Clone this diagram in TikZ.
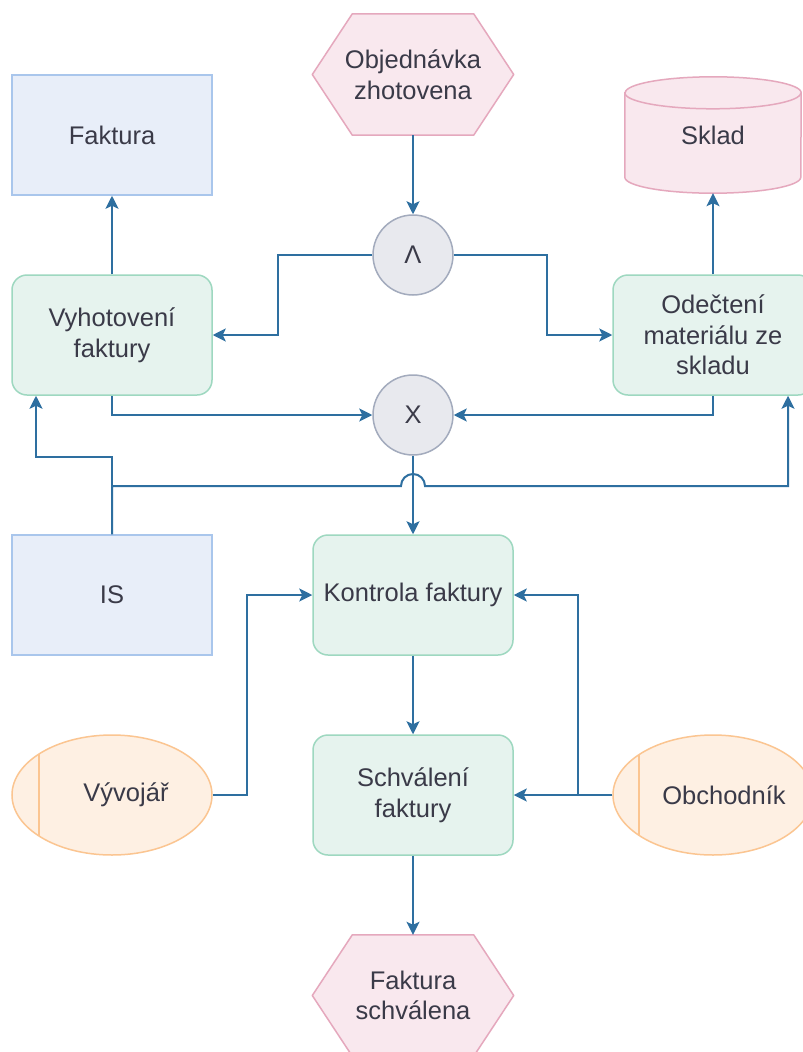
\documentclass[tikz,border=0pt]{standalone}
\usepackage{fontspec}
\setmainfont{Liberation Sans}
\usetikzlibrary{arrows.meta,shapes.geometric,backgrounds,calc}

\definecolor{txt}{HTML}{3A3A48}
\definecolor{wire}{HTML}{2E6FA0}
\definecolor{funfill}{HTML}{E6F3EE}
\definecolor{funline}{HTML}{9ED8C0}
\definecolor{evtfill}{HTML}{F9E8EE}
\definecolor{evtline}{HTML}{E5A8BD}
\definecolor{docfill}{HTML}{E8EEF9}
\definecolor{docline}{HTML}{A9C6EC}
\definecolor{actfill}{HTML}{FEF0E3}
\definecolor{actline}{HTML}{FBC591}
\definecolor{gatefill}{HTML}{E8E9EE}
\definecolor{gateline}{HTML}{A3ABBD}

\begin{document}
\begin{tikzpicture}[x=1pt,y=-1pt,
  every node/.style={font=\fontsize{25.5}{30.6}\selectfont, text=txt, align=center},
  funbox/.style={rectangle, rounded corners=15pt, draw=funline, fill=funfill, line width=1.5pt,
    minimum width=200pt, minimum height=120pt, inner sep=0pt},
  docbox/.style={rectangle, draw=docline, fill=docfill, line width=1.5pt,
    minimum width=200pt, minimum height=120pt, inner sep=0pt},
  gatenode/.style={circle, draw=gateline, fill=gatefill, line width=1.5pt,
    minimum size=80pt, inner sep=0pt},
  evtnode/.style={rectangle, minimum width=201pt, minimum height=121pt, inner sep=0pt},
  evtshape/.style={draw=evtline, fill=evtfill, line width=1.5pt, line join=round},
  storenode/.style={rectangle, minimum width=176pt, minimum height=116pt, inner sep=0pt},
  storeshape/.style={draw=evtline, fill=evtfill, line width=1.5pt},
  actornode/.style={ellipse, draw=actline, fill=actfill, line width=1.5pt,
    minimum width=200pt, minimum height=120pt, inner sep=0pt},
  actorbar/.style={draw=actline, line width=1.5pt},
  conn/.style={draw=wire, line width=2pt, -{Stealth[length=13pt,width=13pt,inset=3pt]}}
]
\useasboundingbox (0,0) rectangle (803,1052);

% functions
\node[funbox] (vyh) at (112,335) {Vyhotovení\\faktury};
\node[funbox] (odec) at (713,335) {Odečtení\\materiálu ze\\skladu};
\node[funbox] (kon) at (413,595) {Kontrola faktury};
\node[funbox] (sch) at (413,795) {Schválení\\faktury};

% documents / systems
\node[docbox] (fak) at (112,135) {Faktura};
\node[docbox] (is) at (112,595) {IS};

% logical operators
\node[gatenode] (and) at (413,255) {Λ};
\node[gatenode] (xor) at (413,415) {X};

% events
\node[evtnode] (obj) at (413,74.5) {Objednávka\\zhotovena};
\node[evtnode] (fs) at (413,995.5) {Faktura\\schválena};

% storage
\node[storenode] (skl) at (713,135) {Sklad};

% organisational units
\node[actornode, label={[xshift=14pt]center:Vývojář}] (vyv) at (112,795) {};
\node[actornode, label={[xshift=11pt]center:Obchodník}] (obch) at (713,795) {};
\draw[actorbar] ([shift={(-73,-41)}]vyv.center) -- ([shift={(-73,41)}]vyv.center);
\draw[actorbar] ([shift={(-74,-40)}]obch.center) -- ([shift={(-74,40)}]obch.center);

\begin{pgfonlayer}{background}
  \fill[white] (0,0) rectangle (803,1052);
  % hexagonal event outlines
  \path[evtshape] (obj.west) -- ([xshift=40pt]obj.north west) -- ([xshift=-40pt]obj.north east)
    -- (obj.east) -- ([xshift=-40pt]obj.south east) -- ([xshift=40pt]obj.south west) -- cycle;
  \path[evtshape] (fs.west) -- ([xshift=40pt]fs.north west) -- ([xshift=-40pt]fs.north east)
    -- (fs.east) -- ([xshift=-40pt]fs.south east) -- ([xshift=40pt]fs.south west) -- cycle;
  % cylinder
  \path[storeshape] ($(skl.north west)+(0,16)$) -- ($(skl.south west)+(0,-16)$)
    arc[start angle=180, end angle=360, x radius=88pt, y radius=16pt]
    -- ($(skl.north east)+(0,16)$)
    arc[start angle=0, end angle=180, x radius=88pt, y radius=16pt] -- cycle;
  \draw[draw=evtline, line width=1.5pt] ($(skl.north west)+(0,16)$)
    arc[start angle=180, end angle=360, x radius=88pt, y radius=16pt];
\end{pgfonlayer}

% control flow
\draw[conn] (obj.south) -- (and.north);
\draw[conn] (and.west) -| ([xshift=65pt]vyh.east) -- (vyh.east);
\draw[conn] (and.east) -| ([xshift=-65pt]odec.west) -- (odec.west);
\draw[conn] (vyh.north) -- (fak.south);
\draw[conn] (odec.north) -- (skl.south);
\draw[conn] (vyh.south) |- (xor.west);
\draw[conn] (odec.south) |- (xor.east);
\draw[conn] (xor.south) -- (kon.north);
\draw[conn] (kon.south) -- (sch.north);
\draw[conn] (sch.south) -- (fs.north);

% information system links
\draw[conn] (is.north) |- (36,457) -- ([xshift=-76pt]vyh.south);
\draw[conn] (is.north) |- (401,486)
  arc[start angle=180, end angle=0, radius=12pt] -- (788,486) -- ([xshift=75pt]odec.south);

% organisational links
\draw[conn] (vyv.east) -| ([xshift=-65pt]kon.west) -- (kon.west);
\draw[conn] (obch.west) -- (sch.east);
\draw[conn] (obch.west) -| ([xshift=64pt]kon.east) -- (kon.east);
\end{tikzpicture}
\end{document}
